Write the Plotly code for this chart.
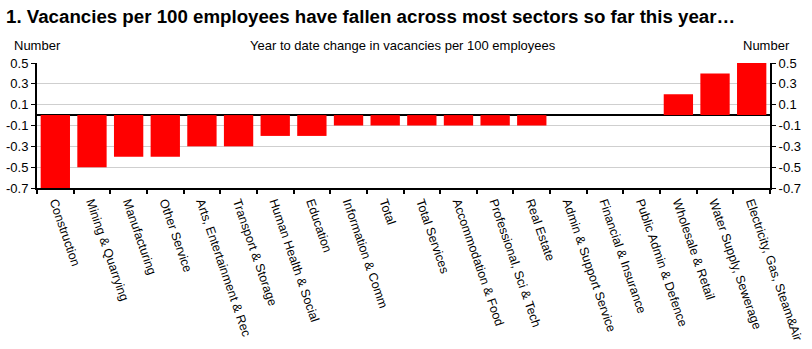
import plotly.graph_objects as go

sectors = [
    "Construction", "Mining & Quarrying", "Manufacturing", "Other Service",
    "Arts, Entertainment & Rec", "Transport & Storage", "Human Health & Social",
    "Education", "Information & Comm", "Total", "Total Services",
    "Accommodation & Food", "Professional, Sci & Tech", "Real Estate",
    "Admin & Support Service", "Financial & Insurance", "Public Admin & Defence",
    "Wholesale & Retail", "Water Supply, Sewerage", "Electricity, Gas, Steam&Air",
]
ytd_change = [-0.7, -0.5, -0.4, -0.4, -0.3, -0.3, -0.2, -0.2, -0.1, -0.1, -0.1,
              -0.1, -0.1, -0.1, 0.0, 0.0, 0.0, 0.2, 0.4, 0.5]
tick_vals = [0.5, 0.3, 0.1, -0.1, -0.3, -0.5, -0.7]
tick_text = ["0.5", "0.3", "0.1", "-0.1", "-0.3", "-0.5", "-0.7"]

FONT = "Liberation Sans, Arial, sans-serif"
W, H = 812, 349
L, R, T, B = 37, 42, 63, 161

fig = go.Figure()
fig.add_trace(go.Bar(x=sectors, y=ytd_change, marker=dict(color="#FF0000", line=dict(width=0)),
                     showlegend=False))
# invisible companion trace so the right-hand axis is drawn
fig.add_trace(go.Scatter(x=sectors, y=ytd_change, mode="none", yaxis="y2",
                         showlegend=False, hoverinfo="skip"))

yaxis_common = dict(
    range=[-0.7, 0.5], tickvals=tick_vals, ticktext=tick_text,
    ticks="outside", ticklen=4, tickwidth=1, tickcolor="black",
    showline=True, linecolor="black", linewidth=2,
    tickfont=dict(family=FONT, size=13, color="black"),
    fixedrange=True, automargin=False,
)

fig.update_layout(
    width=W, height=H,
    margin=dict(l=L, r=R, t=T, b=B, autoexpand=False),
    paper_bgcolor="white", plot_bgcolor="white",
    bargap=0.2,
    font=dict(family=FONT, color="black"),
    xaxis=dict(
        type="category", tickangle=71, automargin=False,
        ticks="outside", tickson="boundaries", ticklen=4, tickwidth=2, tickcolor="black",
        showline=True, linecolor="black", linewidth=2,
        tickfont=dict(family=FONT, size=12.5, color="black"),
        showgrid=False,
    ),
    yaxis=dict(**yaxis_common, showgrid=True, gridcolor="#CFCFCF", gridwidth=1,
               zeroline=True, zerolinecolor="black", zerolinewidth=2),
    yaxis2=dict(**yaxis_common, overlaying="y", side="right", showgrid=False,
                zeroline=False),
)

pw, ph = W - L - R, H - T - B


def px(xp):
    return (xp - L) / pw


def py(yp):
    return (H - B - yp) / ph


fig.add_annotation(text="<b>1. Vacancies per 100 employees have fallen across most sectors so far this year…</b>",
                   x=px(4), y=py(16), xref="paper", yref="paper", xanchor="left", yanchor="middle",
                   showarrow=False, font=dict(family=FONT, size=18.7, color="black"))
fig.add_annotation(text="Number", x=px(12), y=py(45), xref="paper", yref="paper",
                   xanchor="left", yanchor="middle", showarrow=False,
                   font=dict(family=FONT, size=13, color="black"))
fig.add_annotation(text="Number", x=px(792), y=py(45), xref="paper", yref="paper",
                   xanchor="right", yanchor="middle", showarrow=False,
                   font=dict(family=FONT, size=13, color="black"))
fig.add_annotation(text="Year to date change in vacancies per 100 employees", x=px(403), y=py(45),
                   xref="paper", yref="paper", xanchor="center", yanchor="middle", showarrow=False,
                   font=dict(family=FONT, size=13, color="black"))

fig.write_html("out.html")
